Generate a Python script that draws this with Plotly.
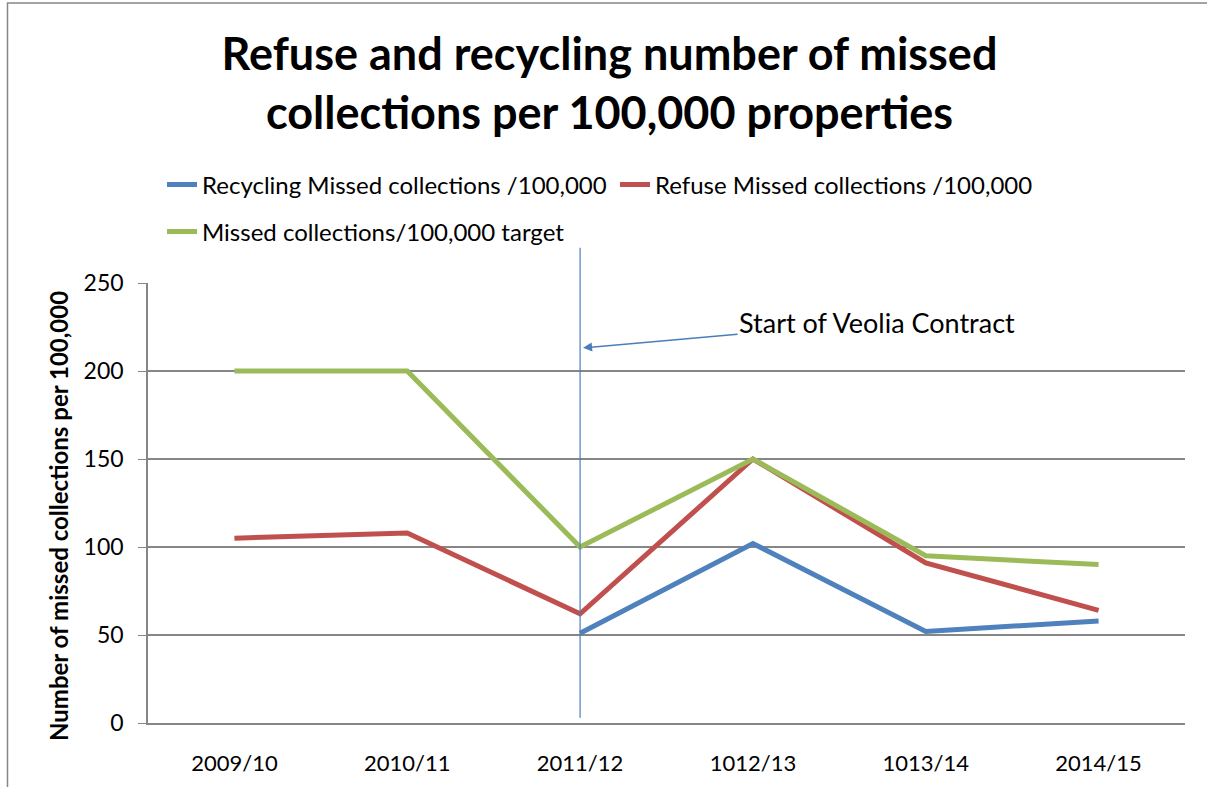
import plotly.graph_objects as go

categories = ["2009/10", "2010/11", "2011/12", "1012/13", "1013/14", "2014/15"]
recycling = [None, None, 51, 102, 52, 58]
refuse = [105, 108, 62, 150, 91, 64]
target = [200, 200, 100, 150, 95, 90]
y_ticks = [0, 50, 100, 150, 200, 250]
marker_category = "2011/12"

FONT = "Lato"
W, H = 1207, 787
L, R, T, B = 148, 22, 283, 64
pw, ph = W - L - R, H - T - B

def px(xp):
    return (xp - L) / pw

def py(yp):
    return (H - B - yp) / ph

fig = go.Figure()
fig.add_trace(go.Scatter(x=categories, y=recycling, mode="lines", name="Recycling Missed collections /100,000",
                         line=dict(color="#4f81bd", width=5), legend="legend"))
fig.add_trace(go.Scatter(x=categories, y=refuse, mode="lines", name="Refuse Missed collections /100,000",
                         line=dict(color="#c0504d", width=5), legend="legend"))
fig.add_trace(go.Scatter(x=categories, y=target, mode="lines", name="Missed collections/100,000 target",
                         line=dict(color="#9bbb59", width=5), legend="legend2"))

fig.update_layout(
    width=W, height=H,
    margin=dict(l=L, r=R, t=T, b=B),
    paper_bgcolor="white", plot_bgcolor="white",
    font=dict(family=FONT, color="black", size=23),
    title=dict(text="<b>Refuse and recycling number of missed<br>collections per 100,000 properties</b>",
               x=0.505, xanchor="center", y=0.911, yanchor="top",
               font=dict(family=FONT, size=45, color="black")),
    legend=dict(orientation="h", x=px(162), xanchor="left", y=py(185), yanchor="middle",
                font=dict(family=FONT, size=24), entrywidth=408, entrywidthmode="pixels",
                bgcolor="rgba(0,0,0,0)"),
    legend2=dict(orientation="h", x=px(162), xanchor="left", y=py(232), yanchor="middle",
                 font=dict(family=FONT, size=24), bgcolor="rgba(0,0,0,0)"),
    showlegend=True,
)

fig.update_xaxes(type="category", range=[-0.5, 5.5], showgrid=False, showline=True,
                 linecolor="#868686", linewidth=1.5, ticks="", tickfont=dict(size=22),
                 ticklabelstandoff=20, zeroline=False)
fig.update_yaxes(range=[0, 250], tickvals=y_ticks, showgrid=True, gridcolor="#868686", gridwidth=1.5,
                 showline=True, linecolor="#868686", linewidth=1.5, ticks="outside", ticklen=8,
                 tickcolor="#868686", tickfont=dict(size=23), zeroline=False, ticklabelstandoff=10)

# y-axis title (placed as rotated annotation to match the original offset)
fig.add_annotation(text="<b>Number of missed collections per 100,000</b>", xref="paper", yref="paper",
                   x=px(58), y=py(516), xanchor="center", yanchor="middle", textangle=-90,
                   showarrow=False, font=dict(family=FONT, size=24, color="black"))

# vertical marker line at start of contract (extends above the plot area)
idx = categories.index(marker_category)
xd = (idx + 0.5) / len(categories)
fig.add_shape(type="line", xref="x domain", yref="y domain", x0=xd, x1=xd, y0=3 / 250, y1=270 / 250,
              line=dict(color="#4a7ebb", width=1.2))

fig.add_annotation(x=marker_category, y=213, xref="x", yref="y", text="Start of Veolia Contract",
                   showarrow=True, arrowhead=2, arrowsize=1.2, arrowwidth=1.5, arrowcolor="#4a7ebb",
                   ax=297, ay=-26, axref="pixel", ayref="pixel", standoff=3,
                   font=dict(family=FONT, size=27, color="black"))

# outer chart border
fig.add_shape(type="rect", xref="paper", yref="paper",
              x0=px(7.5), x1=px(W + 10), y0=py(H + 10), y1=py(3),
              line=dict(color="#868686", width=1.5), fillcolor="rgba(0,0,0,0)", layer="below")

fig.write_html("out.html", config={"displayModeBar": False},
               post_script="document.body.style.margin='0';")
